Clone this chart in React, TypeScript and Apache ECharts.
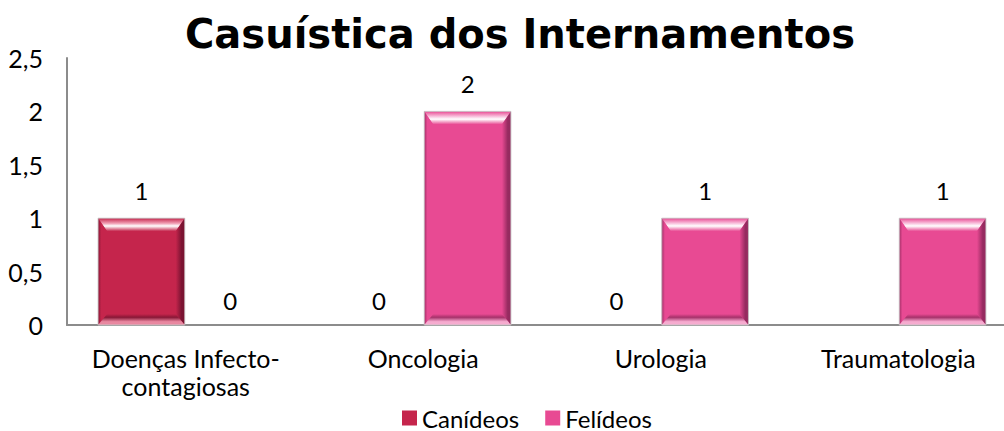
import React, { useEffect, useRef } from "react";
import * as echarts from "echarts";

const categories = ["Doenças Infecto-\ncontagiosas", "Oncologia", "Urologia", "Traumatologia"];
const seriesNames = ["Canídeos", "Felídeos"];
const canideos: (number | null)[] = [1, 0, 0, null];
const felideos: (number | null)[] = [0, 2, 1, 1];
const yTicks = { min: 0, max: 2.5, interval: 0.5 };

const COLORS = ["#C5254C", "#E84A93"];
const DARK = ["#7A1331", "#962B60"];
const LIGHT = ["#F1A0B5", "#F9C3DE"];

const FONT = "Lato, 'Open Sans', sans-serif";

function makeRender(seriesIdx: number) {
  return (params: any, api: any) => {
    const ci = api.value(0);
    const v = api.value(1);
    const base = api.coord([ci, 0]);
    const top = api.coord([ci, v]);
    const catW = api.size([1, 0])[0];
    const bw = catW * 0.365;
    const c = base[0];
    const x = seriesIdx === 0 ? c - bw - 1 : c + 1;
    const y = top[1];
    const h = base[1] - top[1];
    const w = bw;
    const children: any[] = [];
    const col = COLORS[seriesIdx];
    const dk = DARK[seriesIdx];
    const lt = LIGHT[seriesIdx];
    if (h > 0) {
      const b = 9;
      const bt = 13;
      const bb = 11;
      children.push({ type: "rect", shape: { x, y, width: w, height: h }, style: { fill: col } });
      children.push({
        type: "polygon",
        shape: { points: [[x, y], [x + w, y], [x + w - b, y + bt], [x + b, y + bt]] },
        style: {
          fill: new echarts.graphic.LinearGradient(0, 0, 0, 1, [
            { offset: 0, color: col },
            { offset: 0.4, color: lt },
            { offset: 0.6, color: "#FFFFFF" },
            { offset: 1, color: col },
          ]),
        },
      });
      children.push({
        type: "polygon",
        shape: { points: [[x, y], [x + b, y + bt], [x + b, y + h - bb], [x, y + h]] },
        style: {
          fill: new echarts.graphic.LinearGradient(0, 0, 1, 0, [
            { offset: 0, color: dk },
            { offset: 0.35, color: col },
            { offset: 1, color: col },
          ]),
          opacity: 0.85,
        },
      });
      children.push({
        type: "polygon",
        shape: { points: [[x + w, y], [x + w, y + h], [x + w - b, y + h - bb], [x + w - b, y + bt]] },
        style: {
          fill: new echarts.graphic.LinearGradient(0, 0, 1, 0, [
            { offset: 0, color: col },
            { offset: 0.65, color: dk },
            { offset: 1, color: dk },
          ]),
        },
      });
      children.push({
        type: "polygon",
        shape: { points: [[x, y + h], [x + b, y + h - bb], [x + w - b, y + h - bb], [x + w, y + h]] },
        style: {
          fill: new echarts.graphic.LinearGradient(0, 0, 0, 1, [
            { offset: 0, color: col },
            { offset: 0.3, color: dk },
            { offset: 0.7, color: lt },
            { offset: 1, color: lt },
          ]),
          opacity: 0.8,
        },
      });
      children.push({
        type: "rect",
        shape: { x, y, width: w, height: h },
        style: { fill: "none", stroke: "rgba(200,200,200,0.9)", lineWidth: 1 },
      });
    }
    children.push({
      type: "text",
      style: {
        text: String(v),
        x: x + w / 2,
        y: y - (h > 0 ? 28 : 25),
        align: "center",
        verticalAlign: "middle",
        fontSize: 24,
        fontFamily: FONT,
        fill: "#000",
      },
    });
    return { type: "group", children };
  };
}

export default function App() {
  const ref = useRef<HTMLDivElement>(null);
  useEffect(() => {
    document.body.style.margin = "0";
    document.body.style.overflow = "hidden";
    const chart = echarts.init(ref.current!, undefined, { renderer: "svg" });
    const toData = (arr: (number | null)[]) =>
      arr.map((v, i) => (v === null ? null : [i, v])).filter((d) => d !== null);
    chart.setOption({
      animation: false,
      backgroundColor: "#FFFFFF",
      title: {
        text: "Casuística dos Internamentos",
        left: "center",
        top: 9,
        textStyle: { fontSize: 40, fontWeight: "bold", fontFamily: "'DejaVu Sans', sans-serif", color: "#000" },
      },
      legend: {
        data: seriesNames,
        top: 401,
        left: 397,
        icon: "rect",
        itemWidth: 15,
        itemHeight: 15,
        itemGap: 26,
        textStyle: { fontSize: 24, fontFamily: FONT, color: "#000" },
      },
      grid: { left: 67, top: 58, width: 950, height: 267, containLabel: false },
      xAxis: {
        type: "category",
        data: categories,
        axisLine: { lineStyle: { color: "#8C8C8C", width: 2 } },
        axisTick: { show: false },
        axisLabel: { fontSize: 25, fontFamily: FONT, color: "#000", margin: 19, lineHeight: 28, interval: 0 },
      },
      yAxis: {
        type: "value",
        min: yTicks.min,
        max: yTicks.max,
        interval: yTicks.interval,
        axisLine: { show: true, lineStyle: { color: "#8C8C8C", width: 2 } },
        axisTick: { show: false },
        splitLine: { show: false },
        axisLabel: {
          fontSize: 25,
          fontFamily: FONT,
          color: "#000",
          margin: 24,
          formatter: (v: number) => String(v).replace(".", ","),
        },
      },
      series: [
        { name: seriesNames[0], type: "custom", itemStyle: { color: COLORS[0] }, renderItem: makeRender(0), data: toData(canideos), encode: { x: 0, y: 1 } },
        { name: seriesNames[1], type: "custom", itemStyle: { color: COLORS[1] }, renderItem: makeRender(1), data: toData(felideos), encode: { x: 0, y: 1 } },
      ],
    });
    return () => chart.dispose();
  }, []);
  return <div ref={ref} style={{ width: 1040, height: 431 }} />;
}
